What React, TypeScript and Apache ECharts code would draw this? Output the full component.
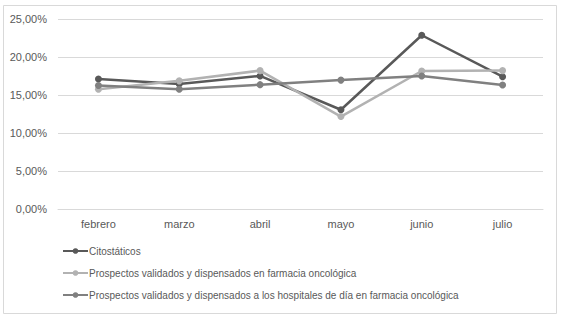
import React, { useEffect, useRef } from "react";
import * as echarts from "echarts";

const categories = ["febrero", "marzo", "abril", "mayo", "junio", "julio"];
const citostaticos = [17.15, 16.5, 17.55, 13.1, 22.9, 17.45];
const prospectosFarmacia = [15.8, 16.9, 18.25, 12.2, 18.2, 18.25];
const prospectosHospitales = [16.3, 15.8, 16.4, 17.0, 17.55, 16.35];
const seriesNames = [
  "Citostáticos",
  "Prospectos validados y dispensados en farmacia oncológica",
  "Prospectos validados y dispensados a los hospitales de día en farmacia oncológica",
];
const colors = ["#595959", "#b2b2b2", "#808080"];

export default function App() {
  const ref = useRef<HTMLDivElement>(null);
  useEffect(() => {
    if (!ref.current) return;
    const chart = echarts.init(ref.current, null, { renderer: "svg" });
    const font = "Liberation Sans, Arial, sans-serif";
    const mk = (name: string, data: number[], color: string) => ({
      name,
      type: "line",
      data,
      symbol: "circle",
      symbolSize: 7,
      lineStyle: { color, width: 2.5 },
      itemStyle: { color },
      emphasis: { disabled: true },
    });
    chart.setOption({
      animation: false,
      color: colors,
      textStyle: { fontFamily: font },
      graphic: [
        {
          type: "rect",
          shape: { x: 3.5, y: 5.5, width: 553, height: 308 },
          style: { fill: "none", stroke: "#d9d9d9", lineWidth: 1 },
          silent: true,
        },
      ],
      grid: { left: 58, right: 21, top: 19.3, bottom: 109.7, containLabel: false },
      xAxis: {
        type: "category",
        data: categories,
        boundaryGap: true,
        axisLine: { show: true, lineStyle: { color: "#d9d9d9", width: 1 } },
        axisTick: { show: false },
        axisLabel: { color: "#595959", fontSize: 11, margin: 9, fontFamily: font },
      },
      yAxis: {
        type: "value",
        min: 0,
        max: 25,
        interval: 5,
        axisLine: { show: false },
        axisTick: { show: false },
        splitLine: { lineStyle: { color: "#d9d9d9", width: 1 } },
        axisLabel: {
          color: "#595959",
          fontSize: 11,
          margin: 11,
          fontFamily: font,
          formatter: (v: number) => v.toFixed(2).replace(".", ",") + "%",
        },
      },
      legend: {
        orient: "vertical",
        left: 57,
        top: 241,
        itemWidth: 25,
        itemHeight: 7,
        itemGap: 12,
        textStyle: { color: "#595959", fontSize: 10, fontFamily: font, padding: [0, 0, 0, -4] },
        data: seriesNames,
      },
      series: [
        mk(seriesNames[0], citostaticos, colors[0]),
        mk(seriesNames[1], prospectosFarmacia, colors[1]),
        mk(seriesNames[2], prospectosHospitales, colors[2]),
      ],
    });
    return () => chart.dispose();
  }, []);
  return (
    <div
      ref={ref}
      style={{ position: "absolute", left: 0, top: 0, width: 564, height: 319, background: "#fff" }}
    />
  );
}
